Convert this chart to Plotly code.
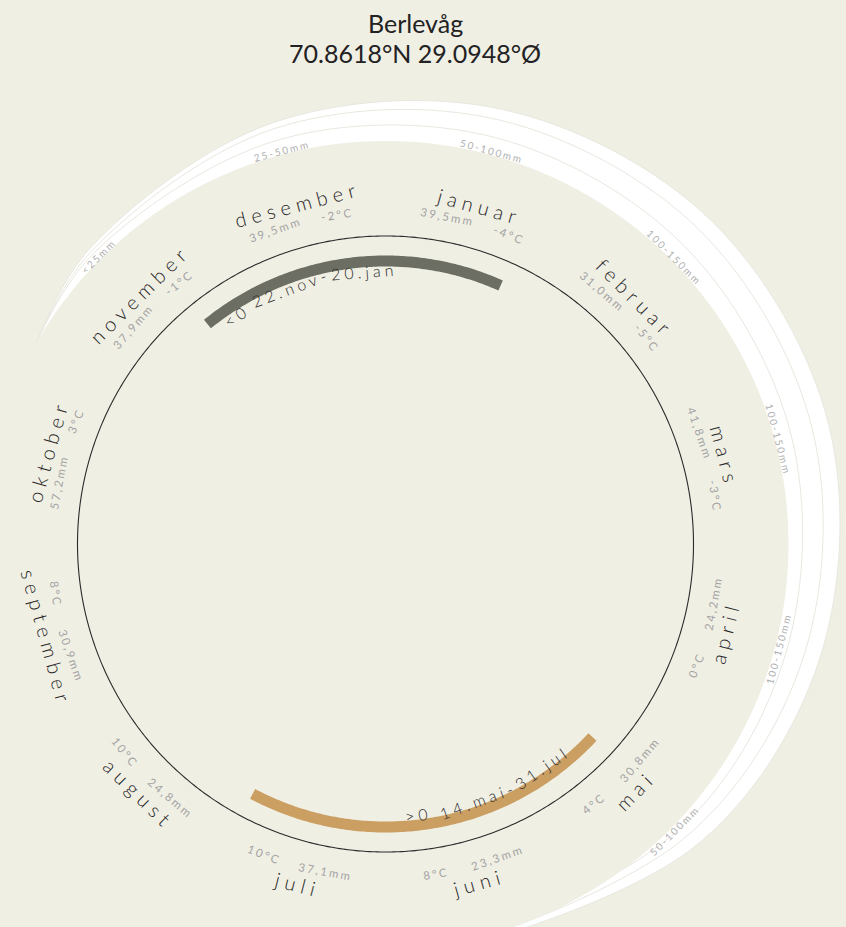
import numpy as np
import plotly.graph_objects as go

# ------------------------------------------------------------------ data
title_place = "Berlevåg"
title_coords = "70.8618°N 29.0948°Ø"

months = ["januar", "februar", "mars", "april", "mai", "juni", "juli",
          "august", "september", "oktober", "november", "desember"]
precip_mm = [39.5, 31.0, 41.8, 24.2, 30.8, 23.3, 37.1, 24.8, 30.9, 57.2, 37.9, 39.5]
temp_c = [-4, -5, -3, 0, 4, 8, 10, 10, 8, 3, -1, -2]

band_months = ["november", "desember", "januar", "februar", "mars", "april", "mai"]
band_labels = ["<25mm", "25-50mm", "50-100mm", "100-150mm", "100-150mm", "100-150mm", "50-100mm"]
band_outer_w = [15, 33, 47, 56, 56, 46, 29]
band_middle_w = [12, 27, 36, 41, 39, 30, 16]
band_inner_w = [9, 15, 18, 19, 17, 12, 6]

sun_labels = ["<0 22.nov-20.jan", ">0 14.mai-31.jul"]
sun_start_deg = [321, 133]
sun_end_deg = [384, 208]
sun_label_deg = [343, 157.5]

# ------------------------------------------------------------------ style / geometry
W, H = 846, 927
CX, CY = 385.5, 544
BG = "#f0efe4"
FONT = "Lato, 'Open Sans', sans-serif"
R_CIRCLE = 308
R_ARC = 283
R_ARC_TEXT = 273
R_MONTH = 351
R_SUB = 333
R_BAND = 403
R_BAND_LABEL = 407
sun_colors = ["#6c6e63", "#cb9e62"]

CW = {c: 0.58 for c in "0123456789<>"}
CW.update({'.': 0.26, ',': 0.26, '-': 0.32, ' ': 0.19, 'a': 0.51, 'b': 0.57, 'c': 0.46,
           'd': 0.57, 'e': 0.53, 'f': 0.32, 'g': 0.51, 'h': 0.57, 'i': 0.24, 'j': 0.24,
           'k': 0.5, 'l': 0.24, 'm': 0.85, 'n': 0.57, 'o': 0.57, 'p': 0.57, 'r': 0.36,
           's': 0.43, 't': 0.34, 'u': 0.57, 'v': 0.5})


def pol(r, deg):
    t = np.radians(np.asarray(deg, dtype=float))
    return np.asarray(r, dtype=float) * np.sin(t), np.asarray(r, dtype=float) * np.cos(t)


def esc(s):
    return s.replace("&", "&amp;").replace("<", "&lt;").replace(">", "&gt;")


def ann(text, deg, r, size, color, ls, weight=400):
    th = deg % 360
    flip = 90 < th < 270
    # compensate the trailing letter-spacing so the glyphs stay centred
    th = th + (-1 if flip else 1) * np.degrees((ls / 2) / r)
    rot = th - 180 if flip else th
    rot = ((rot + 180) % 360) - 180
    x, y = pol(r, th)
    return dict(x=float(x), y=float(y), xref="x", yref="y", showarrow=False,
                text=f'<span style="letter-spacing:{ls}px">{esc(text)}</span>',
                textangle=rot, xanchor="center", yanchor="middle",
                font=dict(family=FONT, size=size, color=color, weight=weight))


def twidth(s, size, ls):
    return sum(CW.get(c, 0.55) * size + ls for c in s)


fig = go.Figure()

# ---- precipitation bands (white crescents)
centres = []
prev = None
for m in band_months:
    c = (months.index(m) + 0.5) * 30
    if prev is not None:
        while c < prev:
            c += 360
    centres.append(c)
    prev = c
th_band = [centres[0] - 15] + centres + [centres[-1] + 40]
for widths in (band_outer_w, band_middle_w, band_inner_w):
    r_out = [R_BAND] + [R_BAND + w for w in widths] + [R_BAND]
    th_all = th_band + th_band[::-1]
    r_all = r_out + [R_BAND - 30] * len(th_band)
    x, y = pol(r_all, th_all)
    fig.add_trace(go.Scatter(x=x, y=y, mode="lines", fill="toself", fillcolor="#ffffff",
                             line=dict(color="#e8e8e0", width=1, shape="spline", smoothing=1),
                             hoverinfo="skip", showlegend=False))

# mask inside the bands
tm = np.linspace(0, 360, 721)
x, y = pol(np.full_like(tm, R_BAND), tm)
fig.add_trace(go.Scatter(x=x, y=y, mode="lines", fill="toself", fillcolor=BG,
                         line=dict(width=0, color=BG, simplify=False), hoverinfo="skip",
                         showlegend=False))

# main circle
x, y = pol(np.full_like(tm, R_CIRCLE), tm)
fig.add_trace(go.Scatter(x=x, y=y, mode="lines",
                         line=dict(color="#2a2a2a", width=1.1, simplify=False),
                         hoverinfo="skip", showlegend=False))

# sun arcs
for s, e, col in zip(sun_start_deg, sun_end_deg, sun_colors):
    ta = np.linspace(s, e, int(abs(e - s) * 2) + 1)
    x, y = pol(np.full_like(ta, R_ARC), ta)
    fig.add_trace(go.Scatter(x=x, y=y, mode="lines",
                             line=dict(color=col, width=11, simplify=False),
                             hoverinfo="skip", showlegend=False))

annotations = []

# month labels + sublabels
for i, m in enumerate(months):
    c = (i + 0.5) * 30
    annotations.append(ann(m, c, R_MONTH, 20, "#262626", 5.5, 300))
    mm = f"{precip_mm[i]:.1f}".replace(".", ",") + "mm"
    tc = f"{temp_c[i]}°C"
    annotations.append(ann(mm, c - 4.5, R_SUB, 11.5, "#a3a3a3", 2.2))
    annotations.append(ann(tc, c + 6.5, R_SUB, 11.5, "#a3a3a3", 2.2))

# band labels
for m, lab in zip(band_months, band_labels):
    c = (months.index(m) + 0.5) * 30
    annotations.append(ann(lab, c, R_BAND_LABEL, 10, "#b0b0b0", 2))

# sun arc labels, set along the arc in short pieces
for lab, cdeg in zip(sun_labels, sun_label_deg):
    size, ls = 16, 4
    pieces = []
    words = lab.split(" ")
    for wi, wd in enumerate(words):
        gap = twidth(" ", size, ls) if wi < len(words) - 1 else 0.0
        if "-" in wd:
            a, b = wd.split("-", 1)
            pieces.append((a + "-", 0.0))
            pieces.append((b, gap))
        else:
            pieces.append((wd, gap))
    total = sum(twidth(p, size, ls) + g for p, g in pieces)
    flip = 90 < (cdeg % 360) < 270
    d = -1 if flip else 1
    span = np.degrees(total / R_ARC_TEXT)
    left = cdeg - d * span / 2
    off = 0.0
    for p, g in pieces:
        wp = twidth(p, size, ls)
        mid = left + d * np.degrees((off + wp / 2) / R_ARC_TEXT)
        annotations.append(ann(p, mid, R_ARC_TEXT, size, "#2e2e2e", ls, 300))
        off += wp + g

# title
annotations.append(dict(x=415 / W, y=1 - 23 / H, xref="paper", yref="paper", showarrow=False,
                        text=title_place, xanchor="center", yanchor="middle",
                        font=dict(family=FONT, size=25, color="#222222")))
annotations.append(dict(x=415 / W, y=1 - 53 / H, xref="paper", yref="paper", showarrow=False,
                        text=title_coords, xanchor="center", yanchor="middle",
                        font=dict(family=FONT, size=25, color="#222222")))

fig.update_layout(
    width=W, height=H, autosize=False,
    margin=dict(l=0, r=0, t=0, b=0, pad=0),
    paper_bgcolor=BG, plot_bgcolor=BG,
    xaxis=dict(range=[-CX, W - CX], visible=False, fixedrange=True),
    yaxis=dict(range=[-(H - CY), CY], visible=False, fixedrange=True),
    annotations=annotations,
    showlegend=False,
)

fig.write_html("out.html", config={"displayModeBar": False},
               post_script="document.body.style.margin='0';document.body.style.background='" + BG + "';")
